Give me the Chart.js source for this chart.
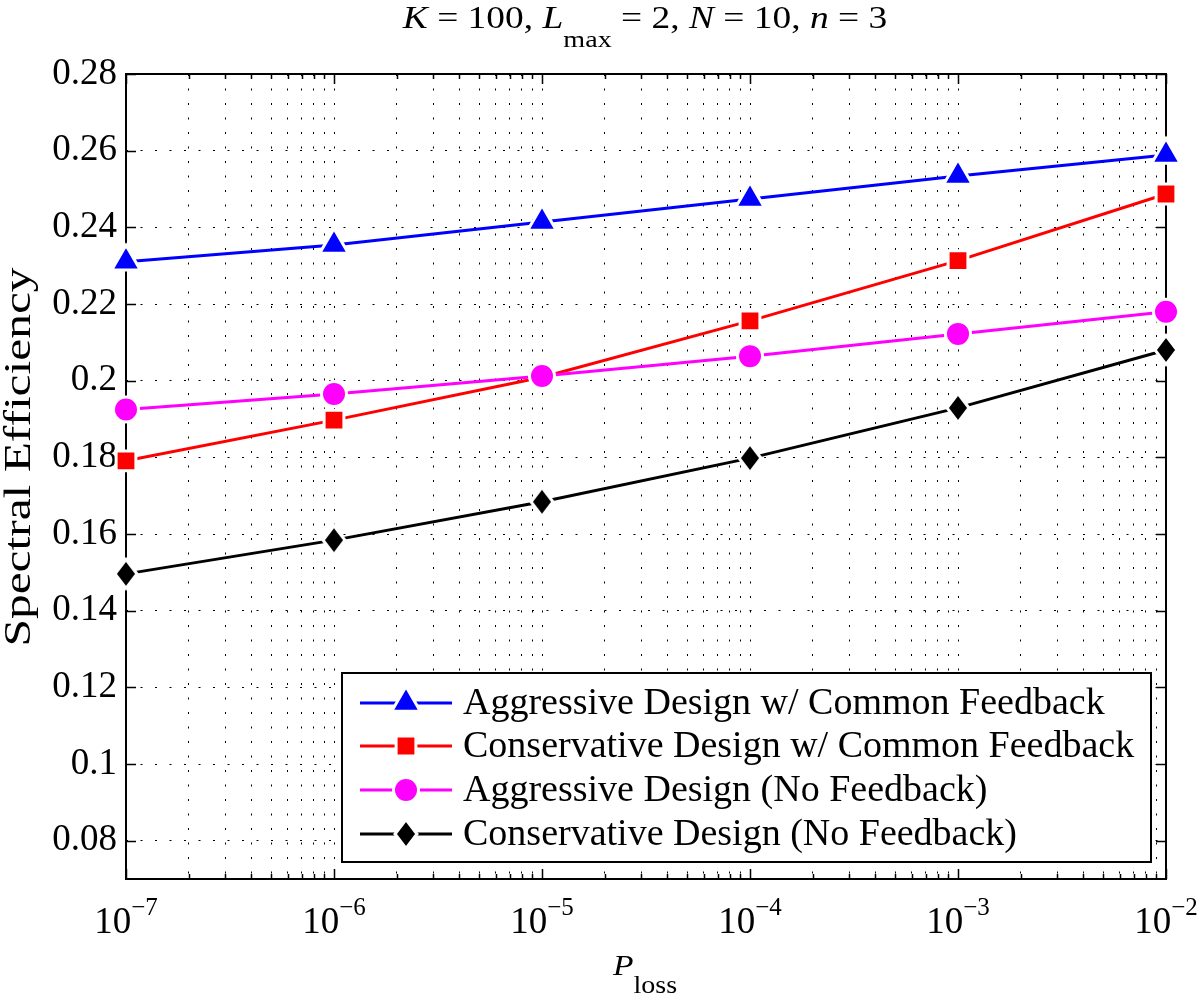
<!DOCTYPE html>
<html><head><meta charset="utf-8">
<script src="https://cdn.jsdelivr.net/npm/chart.js@4/dist/chart.umd.min.js"></script>
<style>html,body{margin:0;padding:0;background:#fff}#wrap{width:1200px;height:996px}</style>
</head><body><div id="wrap"><canvas id="c" width="1200" height="996"></canvas></div>
<script>
// ---- data ----
const xValues = [1e-7, 1e-6, 1e-5, 1e-4, 1e-3, 1e-2];
const aggressiveCommon   = [0.2310, 0.2354, 0.2414, 0.2474, 0.2534, 0.2589];
const conservativeCommon = [0.1791, 0.1897, 0.2009, 0.2156, 0.2313, 0.2487];
const aggressiveNoFb     = [0.1925, 0.1965, 0.2012, 0.2064, 0.2122, 0.2180];
const conservativeNoFb   = [0.1496, 0.1584, 0.1684, 0.1798, 0.1929, 0.2080];
const seriesLabels = [
  'Aggressive Design w/ Common Feedback',
  'Conservative Design w/ Common Feedback',
  'Aggressive Design (No Feedback)',
  'Conservative Design (No Feedback)'
];
const yTickValues = [0.08, 0.10, 0.12, 0.14, 0.16, 0.18, 0.20, 0.22, 0.24, 0.26, 0.28];
const xTickValues = [1e-7, 1e-6, 1e-5, 1e-4, 1e-3, 1e-2];
const xTickExponents = ['\u22127', '\u22126', '\u22125', '\u22124', '\u22123', '\u22122'];
const yMin = 0.07, yMax = 0.28;

const SERIF = '"Liberation Serif", "DejaVu Serif", serif';

// tall diamond marker (MATLAB style)
function makeDiamond() {
  const c = document.createElement('canvas');
  c.width = 28; c.height = 34;
  const g = c.getContext('2d');
  g.beginPath();
  g.moveTo(14, 2.5); g.lineTo(25, 17); g.lineTo(14, 31.5); g.lineTo(3, 17); g.closePath();
  g.fillStyle = '#000'; g.fill();
  g.lineWidth = 3; g.strokeStyle = '#fff'; g.stroke();
  return c;
}
const diamond = makeDiamond();

const styles = [
  {color: '#0000ff', pointStyle: 'triangle', radius: 16.5},
  {color: '#ff0000', pointStyle: 'rect', radius: 14},
  {color: '#ff00ff', pointStyle: 'circle', radius: 12.5},
  {color: '#000000', pointStyle: diamond, radius: 14}
];
const seriesData = [aggressiveCommon, conservativeCommon, aggressiveNoFb, conservativeNoFb];

const datasets = seriesData.map((vals, i) => ({
  label: seriesLabels[i],
  data: xValues.map((x, j) => ({x: x, y: vals[j]})),
  borderColor: styles[i].color,
  backgroundColor: styles[i].color,
  pointBackgroundColor: styles[i].color,
  pointBorderColor: '#ffffff',
  pointBorderWidth: 3,
  pointStyle: styles[i].pointStyle,
  pointRadius: styles[i].radius,
  borderWidth: 3,
  tension: 0,
  clip: false,
  order: 4 - i
}));

function isMajor(v) {
  return xTickValues.some(t => Math.abs(Math.log10(v) - Math.log10(t)) < 1e-9);
}

const framePlugin = {
  id: 'frame',
  beforeDatasetsDraw(chart) {
    const {ctx, chartArea: a, scales: {x, y}} = chart;
    ctx.save();
    ctx.strokeStyle = '#000';
    ctx.lineWidth = 1.5;
    x.ticks.forEach(t => {
      const px = Math.round(x.getPixelForValue(t.value)) + 0.5;
      const len = isMajor(t.value) ? 10 : 5;
      ctx.beginPath();
      ctx.moveTo(px, a.bottom); ctx.lineTo(px, a.bottom - len);
      ctx.moveTo(px, a.top); ctx.lineTo(px, a.top + len);
      ctx.stroke();
    });
    y.ticks.forEach(t => {
      const py = Math.round(y.getPixelForValue(t.value)) + 0.5;
      ctx.beginPath();
      ctx.moveTo(a.left, py); ctx.lineTo(a.left + 10, py);
      ctx.moveTo(a.right, py); ctx.lineTo(a.right - 10, py);
      ctx.stroke();
    });
    ctx.lineWidth = 2;
    ctx.strokeRect(a.left, a.top, a.right - a.left, a.bottom - a.top);
    ctx.restore();
  }
};

const legendPlugin = {
  id: 'customLegend',
  afterDatasetsDraw(chart) {
    const ctx = chart.ctx;
    const box = {left: 342, top: 673, right: 1151, bottom: 862};
    ctx.save();
    ctx.fillStyle = '#fff';
    ctx.fillRect(box.left, box.top, box.right - box.left, box.bottom - box.top);
    ctx.strokeStyle = '#000';
    ctx.lineWidth = 2;
    ctx.strokeRect(box.left, box.top, box.right - box.left, box.bottom - box.top);
    const rowY = [703, 746, 790, 834];
    chart.data.datasets.forEach((ds, i) => {
      const yy = rowY[i];
      ctx.strokeStyle = ds.borderColor;
      ctx.lineWidth = 3;
      ctx.beginPath(); ctx.moveTo(360, yy); ctx.lineTo(452, yy); ctx.stroke();
      ctx.fillStyle = ds.pointBackgroundColor;
      ctx.strokeStyle = '#fff';
      ctx.lineWidth = 3;
      Chart.helpers.drawPoint(ctx, {pointStyle: ds.pointStyle, radius: ds.pointRadius, rotation: 0, borderWidth: 3}, 406, yy);
      ctx.fillStyle = '#000';
      ctx.font = '38px ' + SERIF;
      ctx.textBaseline = 'middle';
      ctx.textAlign = 'left';
      ctx.fillText(ds.label, 463, yy + 1);
    });
    ctx.restore();
  }
};

function drawRich(ctx, segs, cx, sx) {
  sx = sx || 1;
  let total = 0;
  segs.forEach(s => { ctx.font = s.font; s.w = ctx.measureText(s.t).width; total += s.w; });
  ctx.save();
  ctx.translate(cx - total * sx / 2, 0);
  ctx.scale(sx, 1);
  let xx = 0;
  segs.forEach(s => { ctx.font = s.font; ctx.fillText(s.t, xx, s.y); xx += s.w; });
  ctx.restore();
}

const textPlugin = {
  id: 'texts',
  afterDraw(chart) {
    const {ctx, scales: {x}} = chart;
    ctx.save();
    ctx.fillStyle = '#000';
    ctx.textBaseline = 'alphabetic';
    ctx.textAlign = 'left';
    // title
    const it = 'italic 32px ' + SERIF, rm = '32px ' + SERIF, sb = '24px ' + SERIF;
    drawRich(ctx, [
      {t: 'K', font: it, y: 28}, {t: ' = 100, ', font: rm, y: 28},
      {t: 'L', font: it, y: 28}, {t: 'max', font: sb, y: 47},
      {t: ' = 2, ', font: rm, y: 28}, {t: 'N', font: it, y: 28},
      {t: ' = 10, ', font: rm, y: 28}, {t: 'n', font: it, y: 28},
      {t: ' = 3', font: rm, y: 28}
    ], 645, 1.17);
    // x axis title
    drawRich(ctx, [
      {t: 'P', font: 'italic 30px ' + SERIF, y: 975},
      {t: 'loss', font: '25px ' + SERIF, y: 993}
    ], 645, 1.12);
    // x tick labels
    xTickValues.forEach((v, i) => {
      const px = x.getPixelForValue(v);
      drawRich(ctx, [
        {t: '10', font: '37px ' + SERIF, y: 933},
        {t: xTickExponents[i], font: '25px ' + SERIF, y: 915}
      ], px, 1);
    });
    // y axis title
    ctx.translate(20, 457);
    ctx.rotate(-Math.PI / 2);
    ctx.scale(1.3, 1);
    ctx.textAlign = 'center';
    ctx.textBaseline = 'middle';
    ctx.font = '38px ' + SERIF;
    ctx.fillText('Spectral Efficiency', 0, 0);
    ctx.restore();
  }
};

new Chart(document.getElementById('c'), {
  type: 'line',
  data: {datasets},
  options: {
    responsive: false,
    maintainAspectRatio: false,
    animation: false,
    devicePixelRatio: 1,
    layout: {padding: {left: 0, right: 34, top: 74, bottom: 0}},
    plugins: {legend: {display: false}, title: {display: false}, tooltip: {enabled: false}},
    scales: {
      x: {
        type: 'logarithmic',
        min: 1e-7, max: 1e-2,
        afterBuildTicks(scale) {
          const ticks = [];
          for (let e = -7; e <= -2; e++) {
            for (let m = 1; m <= 9; m++) {
              const v = m * Math.pow(10, e);
              if (v > 1e-2 * 1.0001) break;
              ticks.push({value: v, major: m === 1});
            }
          }
          scale.ticks = ticks;
        },
        afterFit(scale) { scale.height = 117; },
        ticks: {display: false, autoSkip: false},
        grid: {color: '#000', lineWidth: 1, drawTicks: false},
        border: {display: false, dash: [2, 12.5]}
      },
      y: {
        type: 'linear',
        min: yMin, max: yMax,
        afterBuildTicks(scale) { scale.ticks = yTickValues.map(v => ({value: v})); },
        afterFit(scale) { scale.width = 126; },
        ticks: {
          color: '#000',
          font: {family: SERIF, size: 37},
          padding: 9,
          callback: v => String(Number(v.toFixed(2)))
        },
        grid: {color: '#000', lineWidth: 1, drawTicks: false},
        border: {display: false, dash: [2, 12.5]}
      }
    }
  },
  plugins: [framePlugin, legendPlugin, textPlugin]
});
</script>
</body></html>
